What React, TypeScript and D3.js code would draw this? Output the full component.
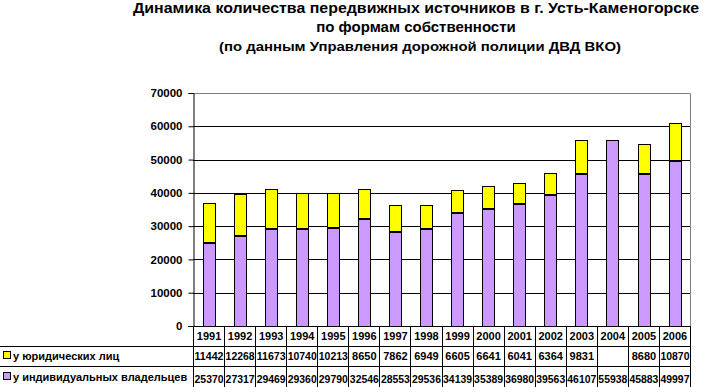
import React, { useRef, useEffect } from "react";
import * as d3 from "d3";

const years = ["1991", "1992", "1993", "1994", "1995", "1996", "1997", "1998", "1999", "2000", "2001", "2002", "2003", "2004", "2005", "2006"];
const legalEntities: (number | null)[] = [11442, 12268, 11673, 10740, 10213, 8650, 7862, 6949, 6605, 6641, 6041, 6364, 9831, null, 8680, 10870];
const individuals = [25370, 27317, 29469, 29360, 29790, 32546, 28553, 29536, 34139, 35389, 36980, 39563, 46107, 55938, 45883, 49997];
const yTicks = [0, 10000, 20000, 30000, 40000, 50000, 60000, 70000];

const titleLines = [
  "Динамика количества передвижных источников в г. Усть-Каменогорске",
  "по формам собственности",
];
const subtitle = "(по данным Управления дорожной полиции ДВД ВКО)";
const rowLabels = ["у юридических лиц", "у индивидуальных владельцев"];

const W = 708;
const H = 387;

const App: React.FC = () => {
  const ref = useRef<SVGSVGElement>(null);

  useEffect(() => {
    if (!ref.current) return;
    const svg = d3.select(ref.current);
    svg.selectAll("*").remove();

    const font = "Arial, 'Liberation Sans', sans-serif";
    const plot = { left: 193, right: 690, top: 93, bottom: 326 };

    const x = d3.scaleBand().domain(years).range([plot.left, plot.right]).paddingInner(0.62).paddingOuter(0.31);
    const band = d3.scaleBand().domain(years).range([plot.left, plot.right]);
    const y = d3.scaleLinear().domain([0, 70000]).range([plot.bottom, plot.top]);

    // titles
    svg.append("g")
      .selectAll("text")
      .data(titleLines)
      .join("text")
      .attr("x", 416)
      .attr("y", (d, i) => 13 + i * 19)
      .attr("text-anchor", "middle")
      .attr("font-family", font)
      .attr("font-weight", "bold")
      .attr("font-size", 15)
      .attr("textLength", (d, i) => (i === 0 ? 566 : null))
      .attr("lengthAdjust", "spacingAndGlyphs")
      .text((d) => d);
    svg.append("text")
      .attr("x", 420)
      .attr("y", 51)
      .attr("text-anchor", "middle")
      .attr("font-family", font)
      .attr("font-weight", "bold")
      .attr("font-size", 13.5)
      .attr("textLength", 402)
      .attr("lengthAdjust", "spacingAndGlyphs")
      .text(subtitle);

    // plot border (gray)
    svg.append("path")
      .attr("d", `M${plot.left},${plot.top + 0.5}H${plot.right + 0.5}V${plot.bottom}`)
      .attr("fill", "none")
      .attr("stroke", "#808080")
      .attr("stroke-width", 1);

    // gridlines
    svg.append("g")
      .selectAll("line")
      .data(yTicks.filter((t) => t > 0 && t < 70000))
      .join("line")
      .attr("x1", plot.left)
      .attr("x2", plot.right)
      .attr("y1", (d) => Math.round(y(d)) + 0.5)
      .attr("y2", (d) => Math.round(y(d)) + 0.5)
      .attr("stroke", "#000");

    // y axis
    const yAxis = svg.append("g")
      .attr("transform", `translate(${plot.left + 0.5},0)`)
      .call(d3.axisLeft(y).tickValues(yTicks).tickSize(5).tickPadding(6).tickFormat(d3.format("d")));
    yAxis.select(".domain").attr("stroke", "#000");
    yAxis.selectAll("text")
      .attr("font-family", font)
      .attr("font-weight", "bold")
      .attr("font-size", 11.5)
      .attr("fill", "#000");

    // bars
    const bars = svg.append("g");
    years.forEach((yr, i) => {
      const bx = Math.round(x(yr)!) + 0.5;
      const bw = Math.round(x.bandwidth());
      const ind = individuals[i];
      const leg = legalEntities[i] ?? 0;
      bars.append("rect")
        .attr("x", bx)
        .attr("y", Math.round(y(ind)) + 0.5)
        .attr("width", bw)
        .attr("height", Math.round(y(0)) - Math.round(y(ind)))
        .attr("fill", "#CC99FF")
        .attr("stroke", "#000");
      if (leg > 0) {
        bars.append("rect")
          .attr("x", bx)
          .attr("y", Math.round(y(ind + leg)) + 0.5)
          .attr("width", bw)
          .attr("height", Math.round(y(ind)) - Math.round(y(ind + leg)))
          .attr("fill", "#FFFF00")
          .attr("stroke", "#000");
        bars.append("line")
          .attr("x1", bx)
          .attr("x2", bx + bw)
          .attr("y1", Math.round(y(ind)) + 1)
          .attr("y2", Math.round(y(ind)) + 1)
          .attr("stroke", "#000")
          .attr("stroke-width", 2);
      }
    });

    // x axis line
    svg.append("line")
      .attr("x1", plot.left - 5)
      .attr("x2", plot.right)
      .attr("y1", plot.bottom + 0.5)
      .attr("y2", plot.bottom + 0.5)
      .attr("stroke", "#000");

    // data table
    const rowY = [plot.bottom, 346, 366, H + 5];
    const table = svg.append("g");
    const bounds = years.map((yr) => band(yr)!).concat([plot.right]);
    table.selectAll("line.v")
      .data(bounds)
      .join("line")
      .attr("x1", (d) => Math.round(d) + 0.5)
      .attr("x2", (d) => Math.round(d) + 0.5)
      .attr("y1", plot.bottom)
      .attr("y2", H)
      .attr("stroke", "#000");
    table.selectAll("line.h")
      .data([rowY[1], rowY[2]])
      .join("line")
      .attr("x1", 0)
      .attr("x2", plot.right)
      .attr("y1", (d) => d + 0.5)
      .attr("y2", (d) => d + 0.5)
      .attr("stroke", "#000");

    const cellText = (vals: (string | null)[], row: number) => {
      table.append("g")
        .selectAll("text")
        .data(vals)
        .join("text")
        .attr("x", (d, i) => band(years[i])! + band.bandwidth() / 2 + 0.5)
        .attr("y", (rowY[row] + rowY[row + 1]) / 2 + 4)
        .attr("text-anchor", "middle")
        .attr("font-family", font)
        .attr("font-weight", "bold")
        .attr("font-size", 11)
        .attr("textLength", (d) => (d && d.length === 5 ? 29 : null))
        .attr("lengthAdjust", "spacingAndGlyphs")
        .text((d) => d ?? "");
    };
    cellText(years, 0);
    cellText(legalEntities.map((v) => (v == null ? null : String(v))), 1);
    cellText(individuals.map(String), 2);

    const colors = ["#FFFF00", "#CC99FF"];
    rowLabels.forEach((lbl, i) => {
      const cy = (rowY[i + 1] + (i === 0 ? rowY[2] : 387)) / 2;
      table.append("rect")
        .attr("x", 3.5)
        .attr("y", Math.round(cy) - 4.5)
        .attr("width", 7)
        .attr("height", 7)
        .attr("fill", colors[i])
        .attr("stroke", "#000");
      table.append("text")
        .attr("x", 13)
        .attr("y", cy + 4)
        .attr("font-family", font)
        .attr("font-weight", "bold")
        .attr("font-size", 11)
        .text(lbl);
    });
  }, []);

  return (
    <svg
      ref={ref}
      width={W}
      height={H}
      style={{ position: "absolute", left: 0, top: 0, background: "#fff" }}
    />
  );
};

export default App;
